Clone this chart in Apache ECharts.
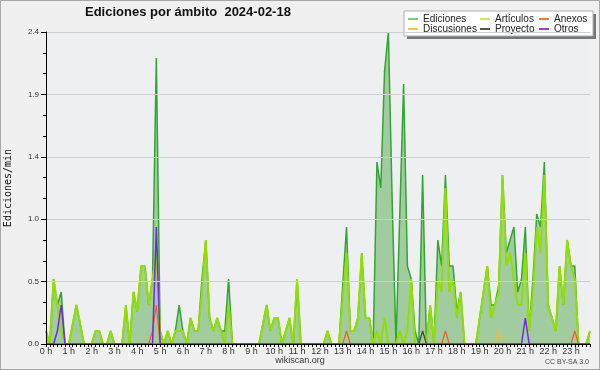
<!DOCTYPE html>
<html><head><meta charset="utf-8">
<script src="https://cdn.jsdelivr.net/npm/echarts@6/dist/echarts.min.js"></script>
<style>html,body{margin:0;padding:0;background:#f0f0f0}#c{width:600px;height:370px}</style>
</head><body><div id="c"></div><script>
const hourLabels = ['0 h','1 h','2 h','3 h','4 h','5 h','6 h','7 h','8 h','9 h','10 h','11 h','12 h','13 h','14 h','15 h','16 h','17 h','18 h','19 h','20 h','21 h','22 h','23 h'];
const yTicks = [0, 0.48, 0.96, 1.44, 1.92, 2.4];
// one value every 10 minutes (6 per hour)
const ediciones = [
  0.1, 0, 0.5, 0.3, 0.4, 0,
  0, 0.15, 0.3, 0.15, 0, 0,
  0, 0.1, 0.1, 0, 0, 0.1,
  0, 0, 0, 0.3, 0, 0.4,
  0.25, 0.6, 0.6, 0.3, 0.5, 2.2,
  0.1, 0, 0.1, 0, 0.1, 0.3,
  0.1, 0, 0.2, 0.1, 0.1, 0.5,
  0.8, 0.2, 0.1, 0.2, 0.1, 0.1,
  0.5, 0, 0, 0, 0, 0,
  0, 0, 0, 0.15, 0.3, 0.1,
  0.2, 0.2, 0, 0.1, 0.2, 0,
  0.5, 0, 0, 0, 0, 0,
  0, 0, 0.1, 0, 0, 0,
  0.45, 0.9, 0.1, 0.1, 0.2, 0.7,
  0.2, 0.2, 0, 1.4, 1.2, 2.1,
  2.4, 1.1, 0, 1.0, 2.0, 0.6,
  0.5, 0.1, 0, 1.3, 0, 0.3,
  0, 0.8, 0.6, 1.3, 0.6, 0.6,
  0.25, 0.4, 0, 0, 0, 0,
  0.2, 0.4, 0.6, 0.3, 0.3, 0.45,
  1.3, 0.7, 0.8, 0.9, 0.4, 0.5,
  0.9, 0.1, 0.5, 1.0, 0.9, 1.4,
  0.3, 0.2, 0.1, 0.6, 0.3, 0.8,
  0.6, 0.6, 0, 0, 0, 0.1
];
const articulos = [
  0.1, 0, 0.5, 0.3, 0.1, 0,
  0, 0.15, 0.3, 0.15, 0, 0,
  0, 0.1, 0.1, 0, 0, 0.1,
  0, 0, 0, 0.3, 0, 0.4,
  0.25, 0.6, 0.6, 0.3, 0.5, 0.7,
  0.1, 0, 0.1, 0, 0.1, 0.1,
  0.1, 0, 0.2, 0.1, 0.1, 0.4,
  0.8, 0.2, 0.1, 0.2, 0.1, 0,
  0.3, 0, 0, 0, 0, 0,
  0, 0, 0, 0.15, 0.3, 0.1,
  0.2, 0.2, 0, 0.1, 0.2, 0,
  0.5, 0, 0, 0, 0, 0,
  0, 0, 0.1, 0, 0, 0,
  0.35, 0.7, 0.1, 0.1, 0.2, 0.7,
  0.2, 0.2, 0, 0.1, 0, 0.2,
  0, 0, 0, 0.1, 0, 0.1,
  0.5, 0, 0, 0, 0, 0.3,
  0, 0.5, 0.4, 1.2, 0.4, 0.5,
  0.2, 0.4, 0, 0, 0, 0,
  0.2, 0.4, 0.6, 0.2, 0.3, 0.4,
  1.3, 0.6, 0.7, 0.5, 0.3, 0.3,
  0.7, 0.1, 0.4, 0.9, 0.7, 1.3,
  0.3, 0.2, 0.1, 0.6, 0.3, 0.8,
  0.6, 0.5, 0, 0, 0, 0.1
];
const discusiones = [
  0,0,0,0,0,0, 0,0,0,0,0,0, 0,0,0,0,0,0, 0,0,0,0,0,0,
  0,0,0,0,0,0, 0,0,0,0,0,0, 0,0,0,0,0,0, 0,0,0,0,0,0,
  0,0,0,0,0,0, 0,0,0,0,0,0, 0,0,0,0,0,0, 0,0,0,0,0,0,
  0,0,0,0,0,0, 0,0,0,0,0,0, 0,0,0,0,0,0, 0,0,0,0,0,0,
  0,0,0,0,0,0, 0,0,0,0,0,0, 0,0,0,0,0,0, 0,0,0,0,0,0.1,
  0,0,0,0,0,0, 0,0,0,0,0,0, 0,0,0,0,0,0, 0,0,0,0,0,0
];
const proyecto = [
  0,0,0,0,0,0, 0,0,0,0,0,0, 0,0,0,0,0,0, 0,0,0,0,0,0,
  0,0,0,0,0,0, 0,0,0,0,0,0, 0,0,0,0,0,0, 0,0,0,0,0,0,
  0,0,0,0,0,0, 0,0,0,0,0,0, 0,0,0,0,0,0, 0,0,0,0,0,0,
  0,0,0,0,0,0, 0,0,0,0,0,0, 0,0,0,0,0,0, 0,0,0,0,0,0,
  0,0,0,0.1,0,0, 0,0,0,0,0,0, 0,0,0,0,0,0, 0,0,0,0,0,0,
  0,0,0,0,0,0, 0,0,0,0,0,0, 0,0,0,0,0,0, 0,0,0,0,0,0
];
const anexos = [
  0,0,0,0,0,0, 0,0,0,0,0,0, 0,0,0,0,0,0, 0,0,0,0,0,0,
  0,0,0,0,0.1,0.3, 0,0,0,0,0,0, 0,0,0,0,0,0, 0,0,0,0,0,0,
  0,0,0,0,0,0, 0,0,0,0,0,0, 0,0,0,0,0,0, 0,0,0,0,0,0,
  0,0,0,0,0,0, 0,0.1,0,0,0,0, 0,0,0,0,0,0, 0,0,0,0,0,0,
  0,0,0,0,0,0, 0,0,0,0.1,0,0, 0,0,0,0,0,0, 0,0,0,0,0,0,
  0,0,0,0,0,0, 0,0,0,0,0,0, 0,0,0,0,0,0, 0,0.1,0,0,0,0
];
const otros = [
  0,0,0,0.1,0.3,0, 0,0,0,0,0,0, 0,0,0,0,0,0, 0,0,0,0,0,0,
  0,0,0,0,0,0.9, 0,0,0,0,0,0, 0,0,0,0,0,0, 0,0,0,0,0,0,
  0,0,0,0,0,0, 0,0,0,0,0,0, 0,0,0,0,0,0, 0,0,0,0,0,0,
  0,0,0,0,0,0, 0,0,0,0,0,0, 0,0,0,0,0,0, 0,0,0,0,0,0,
  0,0,0,0,0,0, 0,0,0,0,0,0, 0,0,0,0,0,0, 0,0,0,0,0,0,
  0,0,0,0,0,0, 0.2,0,0,0,0,0, 0,0,0,0,0,0, 0,0,0,0,0,0
];

const categories = [];
for (let h = 0; h < 24; h++) for (let m = 0; m < 6; m++) categories.push(h + ':' + m + '0');

const F = 'Liberation Sans';
const chart = echarts.init(document.getElementById('c'), null, {renderer: 'canvas'});
const legendBase = {
  orient: 'vertical', top: 14, itemGap: 0, itemWidth: 10, itemHeight: 2, padding: 0, icon: 'rect',
  textStyle: {fontFamily: F, fontSize: 10, color: '#222', lineHeight: 10}
};
function line(name, data, color, width, z) {
  return {name, type: 'line', data, symbol: 'none', z: z,
    lineStyle: {color, width}, itemStyle: {color}, animation: false};
}
chart.setOption({
  backgroundColor: '#f0f0f0',
  animation: false,
  title: {text: 'Ediciones por ámbito  2024-02-18', left: 85, top: 6, padding: 0,
    textStyle: {fontFamily: F, fontWeight: 'bold', fontSize: 13, color: '#111'}},
  grid: {left: 46, top: 32, width: 544, height: 312, show: true, backgroundColor: '#eeeff1', borderWidth: 0,
    containLabel: false, outerBoundsMode: 'none'},
  legend: [
    Object.assign({}, legendBase, {left: 408, data: [
      {name: 'Ediciones', itemStyle: {color: '#80c880'}},
      {name: 'Discusiones', itemStyle: {color: '#f5c842'}}]}),
    Object.assign({}, legendBase, {left: 480, data: [
      {name: 'Artículos', itemStyle: {color: '#c8ec5a'}},
      {name: 'Proyecto', itemStyle: {color: '#555555'}}]}),
    Object.assign({}, legendBase, {left: 539, data: [
      {name: 'Anexos', itemStyle: {color: '#ff7a3a'}},
      {name: 'Otros', itemStyle: {color: '#9040ff'}}]})
  ],
  xAxis: {
    type: 'category', data: categories, boundaryGap: false, z: 5,
    axisLine: {lineStyle: {color: '#000', width: 1}},
    axisTick: {show: true, interval: 0, length: 3, lineStyle: {color: '#000'}},
    axisLabel: {interval: 5, margin: 3, fontFamily: F, fontSize: 9, color: '#333',
      formatter: (v, i) => (i % 6 === 0 ? hourLabels[i / 6] : '')},
    splitLine: {show: false}
  },
  yAxis: {
    type: 'value', min: yTicks[0], max: yTicks[yTicks.length - 1], interval: yTicks[1], z: 5,
    name: 'Ediciones/min', nameLocation: 'middle', nameGap: 33,
    nameTextStyle: {fontFamily: 'DejaVu Sans Mono', fontSize: 10, color: '#111'},
    axisLine: {show: true, lineStyle: {color: '#000'}},
    axisTick: {show: true, length: 5, lineStyle: {color: '#000'}},
    minorTick: {show: true, splitNumber: 3, length: 3, lineStyle: {color: '#000'}},
    axisLabel: {margin: 7, fontFamily: F, fontSize: 8, color: '#333', formatter: v => v.toFixed(1)},
    splitLine: {show: true, lineStyle: {color: '#cfcfcf', width: 1}}
  },
  series: [
    Object.assign(line('Ediciones', ediciones, '#32a532', 1.5, 2), {areaStyle: {color: '#a0cca0', opacity: 1}}),
    line('Artículos', articulos, '#92de00', 2, 3),
    line('Discusiones', discusiones, '#f0c020', 1.2, 4),
    line('Proyecto', proyecto, '#444444', 1.2, 4),
    line('Anexos', anexos, '#f06020', 1.2, 4),
    line('Otros', otros, '#7a22ee', 1.5, 4)
  ],
  graphic: [
    {type: 'rect', z: 1, shape: {x: 407, y: 14, width: 189, height: 25}, style: {fill: '#777'}},
    {type: 'rect', z: 2, shape: {x: 404, y: 11, width: 189, height: 25}, style: {fill: '#ffffff', stroke: '#b0b0b0', lineWidth: 1}},
    {type: 'text', z: 5, style: {text: 'wikiscan.org', x: 300, y: 361, textAlign: 'center', textVerticalAlign: 'middle', font: '9px "Liberation Sans"', fill: '#333'}},
    {type: 'text', z: 5, style: {text: 'CC BY-SA 3.0', x: 589, y: 362, textAlign: 'right', textVerticalAlign: 'middle', font: '7px "Liberation Sans"', fill: '#444'}},
    {type: 'rect', z: 20, silent: true, shape: {x: 0.5, y: 0.5, width: 599, height: 369}, style: {fill: 'none', stroke: '#a8a8a8', lineWidth: 1}}
  ]
});
</script></body></html>
